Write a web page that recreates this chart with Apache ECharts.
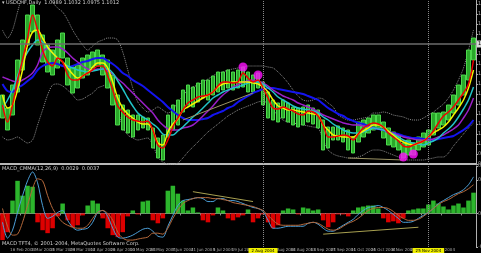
<!DOCTYPE html>
<html><head><meta charset="utf-8">
<script src="https://cdn.jsdelivr.net/npm/echarts@6/dist/echarts.min.js"></script>
<style>html,body{margin:0;padding:0;background:#000;overflow:hidden}#c{width:481px;height:253px}</style>
</head><body><div id="c"></div>
<script>
const categories = ["2 Feb 2004","5 Feb 2004","9 Feb 2004","12 Feb 2004","16 Feb 2004","19 Feb 2004","23 Feb 2004","26 Feb 2004",
"1 Mar 2004","4 Mar 2004","8 Mar 2004","11 Mar 2004","15 Mar 2004","18 Mar 2004","22 Mar 2004","25 Mar 2004","29 Mar 2004",
"1 Apr 2004","5 Apr 2004","8 Apr 2004","12 Apr 2004","15 Apr 2004","19 Apr 2004","22 Apr 2004","26 Apr 2004","29 Apr 2004",
"3 May 2004","6 May 2004","10 May 2004","13 May 2004","17 May 2004","20 May 2004","24 May 2004","27 May 2004","31 May 2004",
"3 Jun 2004","7 Jun 2004","10 Jun 2004","14 Jun 2004","17 Jun 2004","21 Jun 2004","24 Jun 2004","28 Jun 2004",
"1 Jul 2004","5 Jul 2004","8 Jul 2004","12 Jul 2004","15 Jul 2004","19 Jul 2004","22 Jul 2004","26 Jul 2004","29 Jul 2004",
"2 Aug 2004","5 Aug 2004","9 Aug 2004","12 Aug 2004","16 Aug 2004","19 Aug 2004","23 Aug 2004","26 Aug 2004","30 Aug 2004",
"2 Sep 2004","6 Sep 2004","9 Sep 2004","13 Sep 2004","16 Sep 2004","20 Sep 2004","23 Sep 2004","27 Sep 2004","30 Sep 2004",
"4 Oct 2004","7 Oct 2004","11 Oct 2004","14 Oct 2004","18 Oct 2004","21 Oct 2004","25 Oct 2004","28 Oct 2004",
"1 Nov 2004","4 Nov 2004","8 Nov 2004","11 Nov 2004","15 Nov 2004","18 Nov 2004","22 Nov 2004","25 Nov 2004","29 Nov 2004",
"2 Dec 2004","6 Dec 2004","9 Dec 2004","13 Dec 2004","16 Dec 2004","20 Dec 2004","23 Dec 2004","27 Dec 2004"];

const priceHigh = [1.049,1.036,1.059,1.084,1.104,1.129,1.139,1.129,1.109,1.099,
1.094,1.104,1.111,1.086,1.077,1.079,1.086,1.089,1.092,1.094,
1.089,1.084,1.069,1.049,1.039,1.034,1.029,1.029,1.027,1.026,
1.016,1.006,1.009,1.029,1.039,1.044,1.054,1.059,1.057,1.061,
1.064,1.064,1.068,1.072,1.072,1.074,1.072,1.074,1.077,1.072,
1.069,1.071,1.062,1.052,1.044,1.041,1.044,1.041,1.037,1.036,
1.037,1.039,1.036,1.034,1.024,1.017,1.017,1.018,1.016,1.014,
1.007,1.022,1.024,1.026,1.029,1.029,1.022,1.016,1.012,1.009,
1.001,1.004,1.001,1.007,1.011,1.014,1.031,1.031,1.032,1.039,
1.049,1.059,1.069,1.094,1.106];
const priceLow = [1.026,1.014,1.029,1.052,1.074,1.099,1.112,1.099,1.082,1.072,
1.069,1.076,1.086,1.059,1.051,1.056,1.066,1.069,1.076,1.078,
1.069,1.056,1.039,1.019,1.014,1.011,1.007,1.014,1.016,1.014,
0.996,0.986,0.984,1.007,1.014,1.019,1.032,1.039,1.037,1.042,
1.046,1.044,1.049,1.052,1.054,1.056,1.054,1.056,1.057,1.052,
1.052,1.056,1.039,1.026,1.024,1.022,1.026,1.022,1.019,1.017,
1.019,1.022,1.020,1.016,0.994,0.996,1.004,1.004,1.002,0.994,
0.991,1.002,1.007,1.011,1.014,1.016,1.006,0.999,0.997,0.994,
0.986,0.989,0.989,0.994,0.997,0.999,1.009,1.016,1.019,1.024,
1.031,1.039,1.049,1.064,1.084];

const maRed = [1.039,1.022,1.039,1.064,1.084,1.106,1.129,1.114,1.094,1.082,
1.078,1.086,1.082,1.069,1.064,1.064,1.068,1.071,1.074,1.078,
1.078,1.068,1.054,1.038,1.032,1.027,1.024,1.023,1.022,1.023,
1.014,0.999,0.996,1.004,1.017,1.026,1.034,1.041,1.044,1.047,
1.048,1.049,1.052,1.058,1.062,1.062,1.061,1.062,1.071,1.066,
1.062,1.064,1.056,1.046,1.036,1.035,1.037,1.035,1.033,1.030,
1.029,1.033,1.032,1.028,1.019,1.007,1.007,1.008,1.009,1.008,
1.004,1.010,1.016,1.019,1.021,1.020,1.017,1.011,1.007,1.003,
0.998,0.997,0.999,1.001,1.003,1.007,1.013,1.021,1.028,1.032,
1.037,1.044,1.051,1.060,1.084];
const maYellow = [1.049,1.036,1.039,1.054,1.074,1.099,1.112,1.114,1.106,1.097,
1.091,1.086,1.082,1.076,1.070,1.066,1.068,1.071,1.077,1.081,
1.081,1.076,1.062,1.046,1.036,1.030,1.026,1.022,1.020,1.020,
1.014,1.001,0.999,1.012,1.020,1.025,1.034,1.037,1.040,1.043,
1.046,1.049,1.052,1.057,1.060,1.061,1.062,1.062,1.062,1.062,
1.061,1.060,1.057,1.052,1.044,1.038,1.036,1.034,1.034,1.033,
1.032,1.031,1.030,1.029,1.019,1.014,1.009,1.008,1.007,1.007,
1.007,1.010,1.013,1.016,1.019,1.019,1.017,1.013,1.009,1.005,
1.002,1.000,0.999,1.001,1.003,1.007,1.011,1.014,1.017,1.022,
1.029,1.036,1.044,1.056,1.074];
const maCyan = [1.036,1.044,1.054,1.068,1.082,1.092,1.099,1.104,1.102,1.096,
1.091,1.086,1.082,1.078,1.076,1.074,1.073,1.072,1.073,1.074,
1.075,1.075,1.071,1.063,1.055,1.046,1.038,1.031,1.027,1.024,
1.020,1.016,1.010,1.009,1.009,1.013,1.017,1.022,1.027,1.031,
1.036,1.041,1.046,1.049,1.052,1.054,1.056,1.057,1.059,1.061,
1.062,1.062,1.060,1.056,1.052,1.047,1.044,1.041,1.038,1.036,
1.035,1.034,1.033,1.031,1.027,1.024,1.020,1.017,1.014,1.012,
1.011,1.011,1.012,1.014,1.016,1.015,1.014,1.012,1.010,1.007,
1.004,1.002,1.001,1.000,0.999,1.001,1.003,1.006,1.011,1.015,
1.020,1.027,1.035,1.044,1.057];
const maPurple = [1.067,1.065,1.063,1.062,1.064,1.067,1.071,1.079,1.092,1.096,
1.097,1.097,1.095,1.091,1.086,1.082,1.078,1.075,1.074,1.075,
1.075,1.073,1.070,1.065,1.061,1.056,1.051,1.046,1.041,1.036,
1.031,1.024,1.019,1.015,1.014,1.014,1.016,1.017,1.019,1.023,
1.028,1.033,1.038,1.044,1.049,1.053,1.057,1.059,1.062,1.063,
1.064,1.063,1.061,1.058,1.054,1.051,1.048,1.046,1.044,1.041,
1.039,1.037,1.035,1.032,1.029,1.027,1.025,1.023,1.021,1.020,
1.019,1.019,1.018,1.017,1.016,1.015,1.014,1.012,1.011,1.009,
1.007,1.006,1.005,1.004,1.004,1.004,1.005,1.007,1.009,1.012,
1.015,1.019,1.026,1.034,1.046];
const maBlue = [1.060,1.053,1.052,1.056,1.059,1.063,1.067,1.074,1.078,1.080,
1.081,1.080,1.078,1.077,1.078,1.080,1.082,1.083,1.085,1.086,
1.086,1.083,1.080,1.076,1.071,1.068,1.064,1.061,1.058,1.054,
1.050,1.046,1.042,1.037,1.033,1.029,1.026,1.024,1.024,1.024,
1.025,1.026,1.029,1.031,1.033,1.036,1.038,1.042,1.045,1.048,
1.051,1.053,1.055,1.056,1.056,1.055,1.054,1.053,1.052,1.051,
1.050,1.048,1.046,1.044,1.040,1.036,1.033,1.030,1.028,1.025,
1.023,1.021,1.020,1.018,1.016,1.015,1.014,1.012,1.011,1.010,
1.008,1.007,1.006,1.006,1.005,1.005,1.004,1.005,1.006,1.007,
1.008,1.011,1.014,1.018,1.024];
const bandUpper = [1.114,1.106,1.114,1.132,1.149,1.159,1.164,1.164,1.159,1.152,
1.142,1.136,1.132,1.124,1.114,1.106,1.099,1.094,1.098,1.102,
1.104,1.106,1.106,1.104,1.092,1.074,1.056,1.042,1.036,1.032,
1.034,1.037,1.034,1.031,1.034,1.042,1.048,1.054,1.057,1.059,
1.062,1.065,1.068,1.071,1.072,1.074,1.075,1.076,1.077,1.078,
1.078,1.078,1.078,1.077,1.076,1.072,1.067,1.061,1.054,1.048,
1.044,1.043,1.044,1.046,1.045,1.041,1.037,1.029,1.026,1.024,
1.024,1.025,1.026,1.027,1.031,1.031,1.032,1.031,1.029,1.028,
1.027,1.025,1.024,1.024,1.026,1.029,1.032,1.036,1.040,1.046,
1.054,1.064,1.076,1.094,1.114];
const bandLower = [1.007,1.004,1.005,1.007,1.004,1.001,1.004,1.019,1.034,1.049,
1.059,1.060,1.058,1.054,1.049,1.044,1.045,1.048,1.051,1.056,
1.058,1.060,1.049,1.034,1.017,1.009,1.006,1.004,1.005,1.006,
0.999,0.987,0.982,0.980,0.979,0.981,0.986,0.992,0.997,1.002,
1.007,1.012,1.016,1.020,1.024,1.028,1.031,1.034,1.036,1.038,
1.040,1.042,1.043,1.040,1.034,1.028,1.024,1.022,1.021,1.020,
1.019,1.018,1.017,1.016,1.004,0.994,0.990,0.988,0.987,0.986,
0.986,0.987,0.989,0.992,0.994,0.994,0.993,0.991,0.989,0.987,
0.985,0.984,0.984,0.984,0.984,0.985,0.986,0.987,0.987,0.991,
0.998,1.004,1.010,1.016,1.021];

const macdHist = [-0.0027,-0.0019,0.0013,0.0033,0.0018,0.0028,0.0027,-0.0009,-0.0017,-0.0020,
-0.0015,-0.0003,0.0010,-0.0007,-0.0014,-0.0012,-0.0002,0.0008,0.0013,0.0010,
-0.0005,-0.0015,-0.0022,-0.0024,-0.0019,-0.0003,0.0003,-0.0001,0.0012,0.0013,
-0.0007,-0.0010,-0.0005,0.0023,0.0028,0.0020,0.0013,0.0003,0.0006,0.0001,
-0.0007,-0.0009,-0.0002,0.0006,0.0003,-0.0005,-0.0007,-0.0004,-0.0002,0.0004,
-0.0009,-0.0005,-0.0001,-0.0009,-0.0015,-0.0012,0.0003,0.0005,0.0004,-0.0001,
0.0006,0.0005,0.0003,0.0004,-0.0007,-0.0014,-0.0009,-0.0001,-0.0001,-0.0003,
0.0003,0.0006,0.0007,0.0008,0.0008,0.0005,-0.0005,-0.0009,-0.0008,-0.0010,
-0.0005,0.0003,0.0004,0.0005,0.0005,0.0009,0.0013,0.0010,0.0007,0.0004,
0.0008,0.0010,0.0006,0.0013,0.0021];
const macdMain = [-0.0009,-0.0025,-0.0017,0.0001,0.0018,0.0033,0.0042,0.0031,0.0008,-0.0005,
-0.0003,0.0001,0.0003,-0.0007,-0.0014,-0.0017,-0.0016,-0.0015,-0.0009,0.0001,
0.0003,-0.0003,-0.0015,-0.0024,-0.0025,-0.0024,-0.0022,-0.0019,-0.0016,-0.0015,
-0.0018,-0.0023,-0.0024,-0.0013,-0.0002,0.0008,0.0013,0.0014,0.0015,0.0016,
0.0015,0.0012,0.0012,0.0015,0.0015,0.0013,0.0013,0.0012,0.0010,0.0008,
0.0006,0.0005,0.0002,-0.0007,-0.0015,-0.0015,-0.0014,-0.0013,-0.0013,-0.0013,
-0.0013,-0.0010,-0.0009,-0.0011,-0.0015,-0.0018,-0.0018,-0.0015,-0.0012,-0.0009,
-0.0006,-0.0001,0.0003,0.0006,0.0007,0.0008,0.0006,0.0003,-0.0001,-0.0005,
-0.0009,-0.0009,-0.0008,-0.0005,-0.0002,0.0001,0.0005,0.0010,0.0013,0.0016,
0.0019,0.0021,0.0024,0.0029,0.0037];
const macdSignal = [0.0005,-0.0013,-0.0022,-0.0021,-0.0009,0.0008,0.0025,0.0035,0.0033,0.0018,
0.0005,-0.0003,-0.0009,-0.0012,-0.0014,-0.0015,-0.0015,-0.0012,-0.0005,0.0001,
0.0003,0.0000,-0.0007,-0.0019,-0.0025,-0.0027,-0.0027,-0.0026,-0.0025,-0.0024,
-0.0020,-0.0020,-0.0021,-0.0015,-0.0005,0.0003,0.0010,0.0013,0.0015,0.0016,
0.0016,0.0016,0.0015,0.0015,0.0014,0.0013,0.0011,0.0010,0.0009,0.0008,
0.0007,0.0005,0.0003,-0.0002,-0.0007,-0.0011,-0.0012,-0.0012,-0.0012,-0.0012,
-0.0011,-0.0010,-0.0009,-0.0010,-0.0013,-0.0016,-0.0017,-0.0016,-0.0013,-0.0010,
-0.0008,-0.0005,-0.0001,0.0003,0.0005,0.0006,0.0006,0.0005,0.0002,-0.0002,
-0.0005,-0.0007,-0.0007,-0.0006,-0.0003,0.0001,0.0005,0.0009,0.0012,0.0014,
0.0017,0.0020,0.0022,0.0025,0.0029];

const signalDots = [[48,1.077],[51,1.069],[80,0.987],[82,0.990]];
const trendMain = [[36,1.024,50,1.051],[69,0.986,80,0.984]];
const trendMacd = [[38,0.0022,50,0.0012],[64,-0.0021,83,-0.0014]];
const cursorDates = ["2 Aug 2004","25 Nov 2004"];
const lastPrice = 1.101;
const headerText = "\u25BE USDCHF,Daily  1.0989 1.1032 1.0975 1.1012";
const macdLabel = "MACD_CMMA(12,26,9)  0.0029  0.0037";
const copyText = "MACD TFT4, \u00A9 2001-2004, MetaQuotes Software Corp.";

const chart = echarts.init(document.getElementById('c'), null, {renderer: 'canvas'});
const font = 'DejaVu Sans';
const grey = '#a8a8a8';

function tl(t, c) {
  return [
    {coord: [t[0], t[1]], lineStyle: {color: c, width: 1, type: 'solid'}, label: {show: false}},
    {coord: [t[2], t[3]]}
  ];
}

const option = {
  backgroundColor: '#000',
  animation: false,
  textStyle: {fontFamily: font},
  title: [
    {text: headerText, left: 2, top: 0, padding: 0, textStyle: {color: '#d0d0d0', fontSize: 5, fontWeight: 'normal', fontFamily: font}},
    {text: macdLabel, left: 2, top: 166, padding: 0, textStyle: {color: '#d0d0d0', fontSize: 5, fontWeight: 'normal', fontFamily: font}},
    {text: copyText, left: 2, top: 241, padding: 0, textStyle: {color: '#d0d0d0', fontSize: 5, fontWeight: 'normal', fontFamily: font}}
  ],
  grid: [
    {left: 0, right: 5, top: 0, height: 164, containLabel: false, outerBoundsMode: 'none'},
    {left: 0, right: 5, top: 166, height: 81, containLabel: false, outerBoundsMode: 'none'}
  ],
  xAxis: [
    {type: 'category', data: categories, gridIndex: 0,
     axisLine: {show: true, lineStyle: {color: '#b8b8b8', width: 2}},
     axisTick: {show: false}, axisLabel: {show: false}, splitLine: {show: false}},
    {type: 'category', data: categories, gridIndex: 1,
     axisLine: {show: true, lineStyle: {color: '#909090', width: 1}},
     axisTick: {show: true, interval: 3, length: 2, lineStyle: {color: '#909090'}},
     axisLabel: {interval: 3, fontSize: 4, color: grey, margin: 1, fontFamily: font},
     splitLine: {show: false}}
  ],
  yAxis: [
    {type: 'value', gridIndex: 0, position: 'right', min: 0.98, max: 1.144, interval: 0.01,
     axisLine: {show: true, lineStyle: {color: '#b0b0b0'}},
     axisTick: {show: true, length: 2, lineStyle: {color: '#b0b0b0'}},
     axisLabel: {fontSize: 5, color: grey, margin: 2, formatter: v => v.toFixed(4), fontFamily: font},
     splitLine: {show: false}},
    {type: 'value', gridIndex: 1, position: 'right', min: -0.0034, max: 0.0048, interval: 0.0034,
     axisLine: {show: true, lineStyle: {color: '#b0b0b0'}},
     axisTick: {show: true, length: 2, lineStyle: {color: '#b0b0b0'}},
     axisLabel: {fontSize: 5, color: grey, margin: 2, formatter: v => v.toFixed(4), fontFamily: font},
     splitLine: {show: false}}
  ],
  series: [
    {name: 'Upper', type: 'line', data: bandUpper, showSymbol: false, smooth: 0.3,
     lineStyle: {color: '#8c8c8c', width: 1, type: 'dotted'}, z: 1},
    {name: 'Lower', type: 'line', data: bandLower, showSymbol: false, smooth: 0.3,
     lineStyle: {color: '#8c8c8c', width: 1, type: 'dotted'}, z: 1},
    {name: 'Price', type: 'candlestick', barWidth: 4, z: 2,
     data: priceLow.map((lo, i) => [lo, priceHigh[i], lo, priceHigh[i]]),
     itemStyle: {color: '#2aa82a', color0: '#2aa82a', borderColor: '#4cd84c', borderColor0: '#4cd84c', borderWidth: 1},
     markLine: {symbol: ['none', 'none'], silent: true, animation: false,
       data: [
         {yAxis: lastPrice, lineStyle: {color: '#6c6c6c', width: 1.5, type: 'solid'},
          label: {show: true, position: 'end', formatter: lastPrice.toFixed(4), fontSize: 5, color: '#000', backgroundColor: '#d8d8d8', padding: [1, 1], distance: 1}},
         {xAxis: cursorDates[0], lineStyle: {color: '#8a8a8a', width: 1, type: 'dotted'}, label: {show: false}},
         {xAxis: cursorDates[1], lineStyle: {color: '#8a8a8a', width: 1, type: 'dotted'}, label: {show: false}},
         tl(trendMain[0], '#9c9464'),
         tl(trendMain[1], '#9c9464')
       ]}},
    {name: 'MA blue', type: 'line', data: maBlue, showSymbol: false, smooth: 0.3, lineStyle: {color: '#1414f0', width: 2}, z: 3},
    {name: 'MA purple', type: 'line', data: maPurple, showSymbol: false, smooth: 0.3, lineStyle: {color: '#9a1fc8', width: 1.5}, z: 3},
    {name: 'MA cyan', type: 'line', data: maCyan, showSymbol: false, smooth: 0.3, lineStyle: {color: '#22c4c8', width: 1.5}, z: 3},
    {name: 'MA yellow', type: 'line', data: maYellow, showSymbol: false, smooth: 0.3, lineStyle: {color: '#f4f400', width: 1.5}, z: 3},
    {name: 'MA red', type: 'line', data: maRed, showSymbol: false, smooth: 0.3, lineStyle: {color: '#f00000', width: 1.5}, z: 3},
    {name: 'Signals', type: 'scatter', data: signalDots, symbolSize: 9, itemStyle: {color: '#ff10ff'}, z: 5},
    {name: 'Histogram', type: 'bar', xAxisIndex: 1, yAxisIndex: 1, data: macdHist, barCategoryGap: '10%',
     itemStyle: {color: p => p.value >= 0 ? '#2cb52c' : '#dd0000'},
     markLine: {symbol: ['none', 'none'], silent: true, animation: false,
       data: [
         {xAxis: cursorDates[0], lineStyle: {color: '#8a8a8a', width: 1, type: 'dotted'},
          label: {show: true, position: 'start', formatter: cursorDates[0], fontSize: 4, color: '#000', backgroundColor: '#f0f000', padding: [1, 3], distance: 1}},
         {xAxis: cursorDates[1], lineStyle: {color: '#8a8a8a', width: 1, type: 'dotted'},
          label: {show: true, position: 'start', formatter: cursorDates[1], fontSize: 4, color: '#000', backgroundColor: '#f0f000', padding: [1, 3], distance: 1}},
         tl(trendMacd[0], '#a8a050'),
         tl(trendMacd[1], '#a8a050')
       ]}},
    {name: 'MACD', type: 'line', xAxisIndex: 1, yAxisIndex: 1, data: macdMain, showSymbol: false, smooth: 0.3,
     lineStyle: {color: '#4c9fd8', width: 1}, z: 4},
    {name: 'Signal', type: 'line', xAxisIndex: 1, yAxisIndex: 1, data: macdSignal, showSymbol: false, smooth: 0.3,
     lineStyle: {color: '#b4683a', width: 1}, z: 4}
  ]
};
chart.setOption(option);
</script>
</body></html>
